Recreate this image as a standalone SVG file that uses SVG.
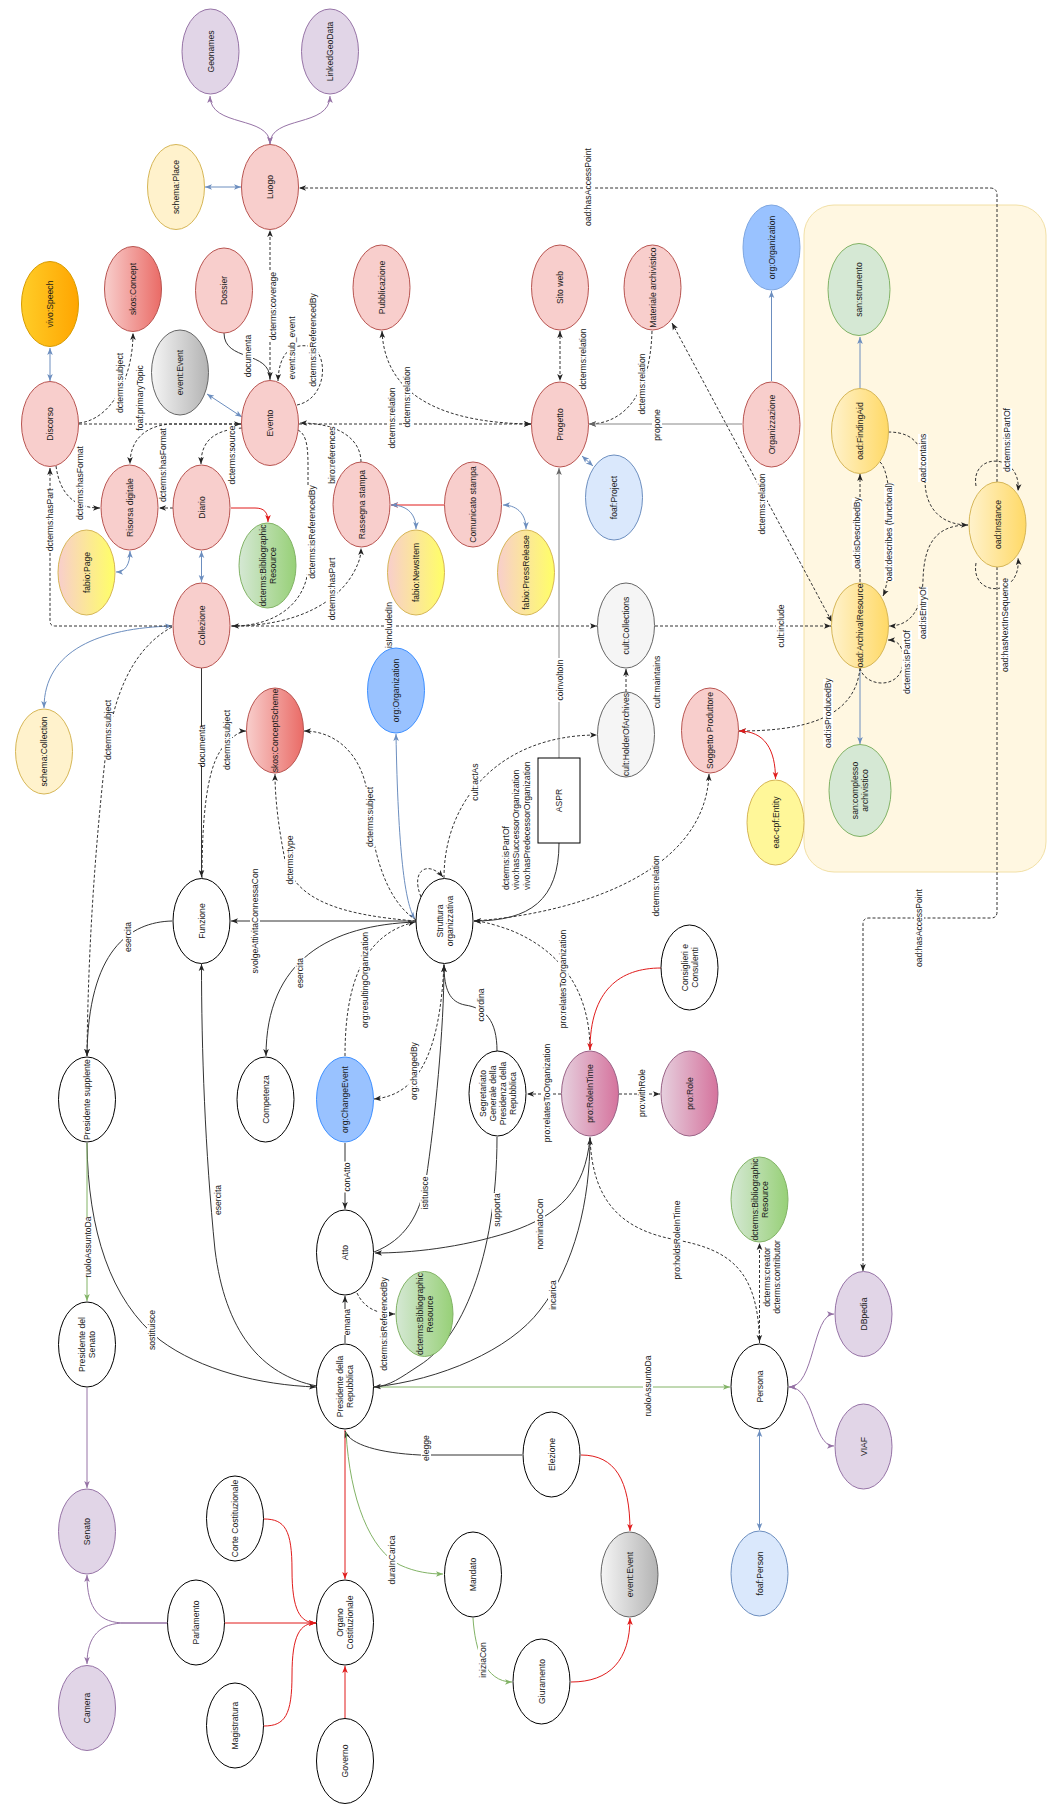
<svg xmlns="http://www.w3.org/2000/svg" width="1048" height="1807" viewBox="0 0 1048 1807">
<defs>
<style>
text{font-family:"Liberation Sans",Arial,Helvetica,sans-serif;font-size:8.6px;fill:#1a1a1a;text-anchor:middle;dominant-baseline:central}
.pk{fill:#f8cecc;stroke:#b85450}
.pu{fill:#e1d5e7;stroke:#9673a6}
.yl{fill:#fff2cc;stroke:#d6b656}
.wh{fill:#ffffff;stroke:#000000}
.gn{fill:#d5e8d4;stroke:#82b366}
.lbl{fill:#dae8fc;stroke:#6c8ebf}
.bl{fill:#99c2ff;stroke:#3d8fff}
.gy{fill:#f5f5f5;stroke:#666666}
.e{fill:none;stroke-width:1}
.k{stroke:#333333;marker-end:url(#ak)}
.d{stroke:#333333;stroke-dasharray:3 2;marker-end:url(#ak)}
.d2{marker-start:url(#ak)}
.b{stroke:#6c8ebf;marker-end:url(#ab);marker-start:url(#ab)}
.b1{stroke:#6c8ebf;marker-end:url(#ab)}
.p{stroke:#9673a6;marker-end:url(#ap)}
.p2{marker-start:url(#ap)}
.r{stroke:#e01b1b;marker-end:url(#ar)}
.r2{marker-start:url(#ar)}
.g{stroke:#82b366;marker-end:url(#ag)}
.gr{stroke:#888888;marker-end:url(#agr)}
.lb rect{fill:#ffffff}
</style>
<marker id="ak" viewBox="0 0 10 10" refX="10" refY="5" markerWidth="7" markerHeight="7" markerUnits="userSpaceOnUse" orient="auto-start-reverse"><path d="M0,1 L10,5 L0,9 L2.5,5 z" fill="#222"/></marker>
<marker id="ab" viewBox="0 0 10 10" refX="10" refY="5" markerWidth="7" markerHeight="7" markerUnits="userSpaceOnUse" orient="auto-start-reverse"><path d="M0,1 L10,5 L0,9 L2.5,5 z" fill="#6c8ebf"/></marker>
<marker id="ap" viewBox="0 0 10 10" refX="10" refY="5" markerWidth="7" markerHeight="7" markerUnits="userSpaceOnUse" orient="auto-start-reverse"><path d="M0,1 L10,5 L0,9 L2.5,5 z" fill="#9673a6"/></marker>
<marker id="ar" viewBox="0 0 10 10" refX="10" refY="5" markerWidth="7" markerHeight="7" markerUnits="userSpaceOnUse" orient="auto-start-reverse"><path d="M0,1 L10,5 L0,9 L2.5,5 z" fill="#e01b1b"/></marker>
<marker id="ag" viewBox="0 0 10 10" refX="10" refY="5" markerWidth="7" markerHeight="7" markerUnits="userSpaceOnUse" orient="auto-start-reverse"><path d="M0,1 L10,5 L0,9 L2.5,5 z" fill="#82b366"/></marker>
<marker id="agr" viewBox="0 0 10 10" refX="10" refY="5" markerWidth="7" markerHeight="7" markerUnits="userSpaceOnUse" orient="auto-start-reverse"><path d="M0,1 L10,5 L0,9 L2.5,5 z" fill="#666"/></marker>
<linearGradient id="gOr" x1="0" y1="0" x2="1" y2="0"><stop offset="0" stop-color="#ffcd28"/><stop offset="1" stop-color="#ffa500"/></linearGradient>
<linearGradient id="gRe" x1="0" y1="0" x2="1" y2="0"><stop offset="0" stop-color="#f8cecc"/><stop offset="1" stop-color="#ea6b66"/></linearGradient>
<linearGradient id="gGy" x1="0" y1="0" x2="1" y2="0"><stop offset="0" stop-color="#f5f5f5"/><stop offset="1" stop-color="#b3b3b3"/></linearGradient>
<linearGradient id="gGn" x1="0" y1="0" x2="1" y2="0"><stop offset="0" stop-color="#d5e8d4"/><stop offset="1" stop-color="#97d077"/></linearGradient>
<linearGradient id="gGo" x1="0" y1="0" x2="1" y2="0"><stop offset="0" stop-color="#fff2cc"/><stop offset="1" stop-color="#ffd966"/></linearGradient>
<linearGradient id="gFa" x1="0" y1="0" x2="1" y2="0"><stop offset="0" stop-color="#f8cecc"/><stop offset="1" stop-color="#ffff66"/></linearGradient>
<linearGradient id="gPi" x1="0" y1="0" x2="1" y2="0"><stop offset="0" stop-color="#e6d0de"/><stop offset="1" stop-color="#d5739d"/></linearGradient>
</defs>
<rect width="1048" height="1807" fill="#ffffff"/>
<rect id="container" x="804" y="205" width="242" height="667" rx="30" fill="#fff7e1" stroke="#f2e0a6"/>

<g id="connectors">
<path class="e p p2" d="M270,144 C270,115 210,128 210,96"/>
<path class="e p p2" d="M270,144 C270,115 330,128 330,96"/>
<path class="e b" d="M205,187 L241,187"/>
<path class="e d" d="M270,380 L270,230"/>
<path class="e k" d="M224,333 C224,362 270,350 270,379"/>
<path class="e d" d="M297,405 C330,398 328,348 308,346 C292,344 279,352 278,381"/>
<path class="e d" d="M79,424 L241,424"/>
<path class="e d" d="M79,423 C110,420 133,380 133,333"/>
<path class="e b" d="M50,348 L50,381"/>
<path class="e b" d="M207,394 L242,417"/>
<path class="e d" d="M299,424 L531,424"/>
<path class="e d d2" d="M382,331 C385,400 450,423 531,424"/>
<path class="e d d2" d="M560,331 L560,381"/>
<path class="e d" d="M652,331 C650,400 620,424 589,424"/>
<path class="e gr" d="M742,424 L589,424"/>
<path class="e b1" d="M771.5,381 L771.5,291"/>
<path class="e d d2" d="M672,323 L832,622"/>
<path class="e b" d="M582,456 L593,466"/>
<path class="e b1" d="M860,388 L860,337"/>
<path class="e b1" d="M860,669 L860,744"/>
<path class="e d" d="M860,582 L860,474"/>
<path class="e d" d="M880,462 C895,475 893,575 883,596"/>
<path class="e d" d="M888,432 C918,432 925,450 925,480 C925,512 945,525 968,525"/>
<path class="e d" d="M968,525 C935,525 924,545 923,580 C922,610 910,626 889,626"/>
<path class="e d" d="M860,668 C865,688 902,690 903,662 C904,645 897,640 888,640"/>
<path class="e d" d="M976,486 C970,452 1022,452 1018,491"/>
<path class="e d" d="M976,563 C970,598 1022,598 1018,558"/>
<path class="e d" d="M860,668 C855,720 800,731 739,731"/>
<path class="e r r2" d="M739,731 C765,731 775.5,750 775.5,779"/>
<path class="e d" d="M655,626 L831,626"/>
<path class="e d" d="M231,626 L597,626"/>
<path class="e d" d="M626,692 L626,669"/>
<path class="e d" d="M444,878 C444,800 500,735 597,735"/>
<path class="e d" d="M421,897 C410,870 428,860 443,877"/>
<path class="e k" d="M559,843 C559,900 530,921 474,921"/>
<path class="e gr" d="M559,758 L559,468"/>
<path class="e d" d="M474,921 C560,915 705,880 709,774"/>
<path class="e k" d="M416,921 L231,921"/>
<path class="e k" d="M416,922 C330,925 266,960 266,1056"/>
<path class="e b" d="M396,734 C398,850 405,905 415,919"/>
<path class="e d" d="M416,920 C385,900 372,850 368,800 C365,760 340,731 304,731"/>
<path class="e d" d="M416,921 C340,915 295,900 285,860 C279,830 275,800 275,774"/>
<path class="e d" d="M202,878 C202,800 210,760 225,745 C233,736 240,731 246,731"/>
<path class="e k" d="M201.5,668 L201.5,877"/>
<path class="e b" d="M172,626 C100,628 44,650 44,708"/>
<path class="e d" d="M172,627 C130,650 112,700 105,760 C95,850 88,950 87,1056"/>
<path class="e d" d="M56,466 C60,495 75,508 100,508"/>
<path class="e d" d="M242,424 L170,424 C145,426 130,440 130,464"/>
<path class="e d" d="M173,508 L159,508"/>
<path class="e d" d="M242,428 C215,430 201,440 201,464"/>
<path class="e d" d="M298,430 C306,434 308,445 308,465 L308,570 C305,600 280,626 232,626"/>
<path class="e d" d="M361,462 C361,440 340,423 300,423"/>
<path class="e d" d="M232,626 C300,626 340,600 355,570 C360,560 361,555 361,548"/>
<path class="e d" d="M172,626 L55,626 Q50,626 50,621 L50,468"/>
<path class="e r" d="M231,508 L255,508 C264,508 268,512 268,522"/>
<path class="e b" d="M201.5,551 L201.5,582"/>
<path class="e b" d="M130,551 C130,565 125,572 116,572"/>
<path class="e r" d="M444,505 L391,505"/>
<path class="e b" d="M391,505 C405,505 416,512 416,529"/>
<path class="e b" d="M503,505 C515,505 526,512 526,529"/>
<path class="e k" d="M317,1386 C260,1375 225,1330 215,1250 C205,1150 201.5,1050 201.5,964"/>
<path class="e k" d="M87,1143 C88,1230 110,1300 160,1340 C200,1370 260,1385 316,1387"/>
<path class="e g" d="M87,1143 L87,1301"/>
<path class="e k" d="M172,921 C130,922 88,950 87,1056"/>
<path class="e p" d="M87,1388 L87,1488"/>
<path class="e p" d="M167,1623 L125,1623 C100,1623 87,1610 87,1575"/>
<path class="e p" d="M167,1623 L125,1623 C100,1623 87,1636 87,1664"/>
<path class="e r" d="M225,1623 L316,1623"/>
<path class="e r" d="M264,1519 C285,1519 292,1530 292,1570 C292,1610 300,1623 316,1623"/>
<path class="e r" d="M264,1726 C285,1726 292,1715 292,1675 C292,1635 300,1623 316,1623"/>
<path class="e r" d="M345,1718 L345,1666"/>
<path class="e r" d="M345,1430 L345,1579"/>
<path class="e k" d="M522,1455 L420,1455 C380,1453 350,1445 345,1431"/>
<path class="e g" d="M346,1432 C350,1500 370,1550 400,1565 C415,1572 430,1574 443,1574"/>
<path class="e g" d="M473,1618 C475,1650 485,1682 512,1682"/>
<path class="e r" d="M581,1455 C615,1455 630,1480 630,1531"/>
<path class="e r" d="M571,1682 C610,1682 630,1660 630,1618"/>
<path class="e g" d="M374,1387 L730,1387"/>
<path class="e b" d="M759.5,1430 L759.5,1530"/>
<path class="e p p2" d="M789,1387 C815,1387 812,1446 834,1446"/>
<path class="e p p2" d="M789,1387 C815,1387 812,1314 834,1314"/>
<path class="e d" d="M759.5,1343 L759.5,1243"/>
<path class="e d" d="M590,1137 C592,1200 620,1230 677,1240 C730,1250 758,1270 759.5,1342"/>
<path class="e d" d="M619,1094 L660,1094"/>
<path class="e d" d="M561,1094 L527,1094"/>
<path class="e d" d="M590,1050 C590,990 560,950 510,930 C490,923 480,921 474,921"/>
<path class="e r" d="M661,968 C620,968 590,990 590,1050"/>
<path class="e k" d="M497,1051 C497,1020 485,1008 465,1005 C450,1002 444,990 444,965"/>
<path class="e k" d="M497,1137 C497,1260 460,1340 420,1365 C400,1378 390,1386 374,1387"/>
<path class="e k" d="M374,1387 C440,1380 510,1350 540,1310 C575,1265 590,1200 590,1138"/>
<path class="e k" d="M590,1138 C585,1190 560,1215 510,1232 C460,1248 410,1253 375,1253"/>
<path class="e k" d="M374,1252 C405,1240 420,1215 426,1180 C435,1120 444,1030 444,965"/>
<path class="e k" d="M345,1143 L345,1209"/>
<path class="e d" d="M345,1056 C345,990 360,935 415,922"/>
<path class="e d" d="M444,964 C440,1050 420,1095 374,1099"/>
<path class="e k" d="M345,1343 L345,1296"/>
<path class="e d" d="M357,1293 C365,1310 380,1314 395,1314"/>
<path class="e d" d="M997,482 L997,195 Q997,188 990,188 L299,188"/>
<path class="e d" d="M997,567 L997,912 Q997,918 991,918 L869,918 Q863,918 863,924 L863,1271"/>

<g class="lb">
<rect x="267.5" y="272" width="10" height="68"/><text transform="translate(272.5,306) rotate(-90)">dcterms:coverage</text>
<rect x="243" y="337" width="10" height="38"/><text transform="translate(248,356) rotate(-90)">documenta</text>
<rect x="287" y="317.5" width="10" height="61"/><text transform="translate(292,348) rotate(-90)">event:sub_event</text>
<rect x="308" y="294" width="10" height="92"/><text transform="translate(313,340) rotate(-90)">dcterms:isReferencedBy</text>
<rect x="135" y="366" width="10" height="64"/><text transform="translate(140,398) rotate(-90)">foaf:primaryTopic</text>
<rect x="115" y="353" width="10" height="60"/><text transform="translate(120,383) rotate(-90)">dcterms:subject</text>
<rect x="387" y="388" width="10" height="60"/><text transform="translate(392,418) rotate(-90)">dcterms:relation</text>
<rect x="402" y="367" width="10" height="60"/><text transform="translate(407,397) rotate(-90)">dcterms:relation</text>
<rect x="578" y="329" width="10" height="60"/><text transform="translate(583,359) rotate(-90)">dcterms:relation</text>
<rect x="637" y="354" width="10" height="60"/><text transform="translate(642,384) rotate(-90)">dcterms:relation</text>
<rect x="652" y="409.5" width="10" height="31"/><text transform="translate(657,425) rotate(-90)">propone</text>
<rect x="757" y="474" width="10" height="60"/><text transform="translate(762,504) rotate(-90)">dcterms:relation</text>
<rect x="852" y="498" width="10" height="70"/><text transform="translate(857,533) rotate(-90)">oad:isDescribedBy</text>
<rect x="884" y="483" width="10" height="98"/><text transform="translate(889,532) rotate(-90)">oad:describes (functional)</text>
<rect x="918" y="434" width="10" height="48"/><text transform="translate(923,458) rotate(-90)">oad:contains</text>
<rect x="918" y="587" width="10" height="52"/><text transform="translate(923,613) rotate(-90)">oad:isEntryOf</text>
<rect x="902" y="630.5" width="10" height="63"/><text transform="translate(907,662) rotate(-90)">dcterms:isPartOf</text>
<rect x="1002" y="408.5" width="10" height="63"/><text transform="translate(1007,440) rotate(-90)">dcterms:isPartOf</text>
<rect x="1000" y="580" width="10" height="90"/><text transform="translate(1005,625) rotate(-90)">oad:hasNextInSequence</text>
<rect x="823" y="679" width="10" height="68"/><text transform="translate(828,713) rotate(-90)">oad:isProducedBy</text>
<rect x="776" y="605" width="10" height="42"/><text transform="translate(781,626) rotate(-90)">cult:include</text>
<rect x="384" y="602" width="10" height="46"/><text transform="translate(389,625) rotate(-90)">isIncludedIn</text>
<rect x="652" y="656" width="10" height="52"/><text transform="translate(657,682) rotate(-90)">cult:maintains</text>
<rect x="470" y="763" width="10" height="38"/><text transform="translate(475,782) rotate(-90)">cult:actAs</text>
<text transform="translate(505.7,890) rotate(-90)" style="text-anchor:start"><tspan x="0" dy="0">dcterms:isPartOf</tspan><tspan x="0" dy="10.5">vivo:hasSuccessorOrganization</tspan><tspan x="0" dy="10.5">vivo:hasPredecessorOrganization</tspan></text>
<rect x="555" y="658" width="10" height="44"/><text transform="translate(560,680) rotate(-90)">coinvoltoIn</text>
<rect x="651" y="856" width="10" height="60"/><text transform="translate(656,886) rotate(-90)">dcterms:relation</text>
<rect x="250" y="869" width="10" height="104"/><text transform="translate(255,921) rotate(-90)">svolgeAttivitaConnessaCon</text>
<rect x="295" y="957.5" width="10" height="31"/><text transform="translate(300,973) rotate(-90)">esercita</text>
<rect x="365" y="787" width="10" height="60"/><text transform="translate(370,817) rotate(-90)">dcterms:subject</text>
<rect x="285" y="836" width="10" height="48"/><text transform="translate(290,860) rotate(-90)">dcterms:type</text>
<rect x="222" y="710" width="10" height="60"/><text transform="translate(227,740) rotate(-90)">dcterms:subject</text>
<rect x="196.5" y="727" width="10" height="38"/><text transform="translate(201.5,746) rotate(-90)">documenta</text>
<rect x="103" y="700" width="10" height="60"/><text transform="translate(108,730) rotate(-90)">dcterms:subject</text>
<rect x="75" y="447" width="10" height="72"/><text transform="translate(80,483) rotate(-90)">dcterms:hasFormat</text>
<rect x="158" y="429" width="10" height="72"/><text transform="translate(163,465) rotate(-90)">dcterms:hasFormat</text>
<rect x="227" y="427" width="10" height="56"/><text transform="translate(232,455) rotate(-90)">dcterms:source</text>
<rect x="307" y="486" width="10" height="92"/><text transform="translate(312,532) rotate(-90)">dcterms:isReferencedBy</text>
<rect x="327" y="427" width="10" height="56"/><text transform="translate(332,455) rotate(-90)">biro:references</text>
<rect x="327" y="559" width="10" height="60"/><text transform="translate(332,589) rotate(-90)">dcterms:hasPart</text>
<rect x="45" y="490" width="10" height="60"/><text transform="translate(50,520) rotate(-90)">dcterms:hasPart</text>
<rect x="213" y="1184.5" width="10" height="31"/><text transform="translate(218,1200) rotate(-90)">esercita</text>
<rect x="147" y="1309" width="10" height="42"/><text transform="translate(152,1330) rotate(-90)">sostituisce</text>
<rect x="83" y="1217" width="10" height="60"/><text transform="translate(88,1247) rotate(-90)">ruoloAssuntoDa</text>
<rect x="123" y="921.5" width="10" height="31"/><text transform="translate(128,937) rotate(-90)">esercita</text>
<rect x="421" y="1434.5" width="10" height="27"/><text transform="translate(426,1448) rotate(-90)">elegge</text>
<rect x="387" y="1536" width="10" height="48"/><text transform="translate(392,1560) rotate(-90)">duraInCarica</text>
<rect x="478" y="1641.5" width="10" height="37"/><text transform="translate(483,1660) rotate(-90)">iniziaCon</text>
<rect x="643" y="1356" width="10" height="60"/><text transform="translate(648,1386) rotate(-90)">ruoloAssuntoDa</text>
<text transform="translate(772,1277) rotate(-90)"><tspan x="0" dy="-5">dcterms:creator</tspan><tspan x="0" dy="10">dcterms:contributor</tspan></text>
<rect x="672" y="1202" width="10" height="76"/><text transform="translate(677,1240) rotate(-90)">pro:holdsRoleInTime</text>
<rect x="637" y="1069" width="10" height="48"/><text transform="translate(642,1093) rotate(-90)">pro:withRole</text>
<rect x="542" y="1044" width="10" height="98"/><text transform="translate(547,1093) rotate(-90)">pro:relatesToOrganization</text>
<rect x="558" y="930" width="10" height="98"/><text transform="translate(563,979) rotate(-90)">pro:relatesToOrganization</text>
<rect x="476" y="988.5" width="10" height="33"/><text transform="translate(481,1005) rotate(-90)">coordina</text>
<rect x="492" y="1193" width="10" height="34"/><text transform="translate(497,1210) rotate(-90)">supporta</text>
<rect x="548" y="1279.5" width="10" height="31"/><text transform="translate(553,1295) rotate(-90)">incarica</text>
<rect x="535" y="1198" width="10" height="52"/><text transform="translate(540,1224) rotate(-90)">nominatoCon</text>
<rect x="420" y="1175" width="10" height="36"/><text transform="translate(425,1193) rotate(-90)">istituisce</text>
<rect x="342" y="1161.5" width="10" height="31"/><text transform="translate(347,1177) rotate(-90)">conAtto</text>
<rect x="360" y="932" width="10" height="96"/><text transform="translate(365,980) rotate(-90)">org:resultingOrganization</text>
<rect x="409" y="1042.5" width="10" height="57"/><text transform="translate(414,1071) rotate(-90)">org:changedBy</text>
<rect x="342" y="1309" width="10" height="26"/><text transform="translate(347,1322) rotate(-90)">emana</text>
<rect x="379" y="1278" width="10" height="92"/><text transform="translate(384,1324) rotate(-90)">dcterms:isReferencedBy</text>
<rect x="583" y="148.5" width="10" height="77"/><text transform="translate(588,187) rotate(-90)">oad:hasAccessPoint</text>
<rect x="914" y="889.5" width="10" height="77"/><text transform="translate(919,928) rotate(-90)">oad:hasAccessPoint</text>
</g>
</g>

<g id="nodes">
<g id="n-geonames"><ellipse class="pu" cx="210.5" cy="51.5" rx="28.5" ry="42.5"/><text transform="translate(210.5,51.5) rotate(-90)">Geonames</text></g>
<g id="n-linkedgeodata"><ellipse class="pu" cx="330" cy="51.5" rx="28.5" ry="42.5"/><text transform="translate(330,51.5) rotate(-90)">LinkedGeoData</text></g>
<g id="n-schemaplace"><ellipse class="yl" cx="176" cy="187" rx="28.5" ry="42.5"/><text transform="translate(176,187) rotate(-90)">schema:Place</text></g>
<g id="n-luogo"><ellipse class="pk" cx="270" cy="187" rx="28.5" ry="42.5"/><text transform="translate(270,187) rotate(-90)">Luogo</text></g>
<g id="n-vivospeech"><ellipse fill="url(#gOr)" stroke="#d79b00" cx="50" cy="304" rx="28.5" ry="42.5"/><text transform="translate(50,304) rotate(-90)">vivo:Speech</text></g>
<g id="n-skosconcept"><ellipse fill="url(#gRe)" stroke="#b85450" cx="133" cy="289" rx="28.5" ry="42.5"/><text transform="translate(133,289) rotate(-90)">skos:Concept</text></g>
<g id="n-dossier"><ellipse class="pk" cx="224" cy="290.5" rx="28.5" ry="42.5"/><text transform="translate(224,290.5) rotate(-90)">Dossier</text></g>
<g id="n-eventevent1"><ellipse fill="url(#gGy)" stroke="#666666" cx="180" cy="372.5" rx="28.5" ry="42.5"/><text transform="translate(180,372.5) rotate(-90)">event:Event</text></g>
<g id="n-discorso"><ellipse class="pk" cx="50" cy="424" rx="28.5" ry="42.5"/><text transform="translate(50,424) rotate(-90)">Discorso</text></g>
<g id="n-evento"><ellipse class="pk" cx="270" cy="423" rx="28.5" ry="42.5"/><text transform="translate(270,423) rotate(-90)">Evento</text></g>
<g id="n-pubblicazione"><ellipse class="pk" cx="381.5" cy="287.5" rx="28.5" ry="42.5"/><text transform="translate(381.5,287.5) rotate(-90)">Pubblicazione</text></g>
<g id="n-sitoweb"><ellipse class="pk" cx="560" cy="287.5" rx="28.5" ry="42.5"/><text transform="translate(560,287.5) rotate(-90)">Sito web</text></g>
<g id="n-materiale"><ellipse class="pk" cx="652.5" cy="287.5" rx="28.5" ry="42.5"/><text transform="translate(652.5,287.5) rotate(-90)">Materiale archivistico</text></g>
<g id="n-progetto"><ellipse class="pk" cx="560" cy="424.5" rx="28.5" ry="42.5"/><text transform="translate(560,424.5) rotate(-90)">Progetto</text></g>
<g id="n-orgorganization1"><ellipse fill="#99c2ff" stroke="#7ea6e0" cx="771.5" cy="247.5" rx="28.5" ry="42.5"/><text transform="translate(771.5,247.5) rotate(-90)">org:Organization</text></g>
<g id="n-organizzazione"><ellipse class="pk" cx="771.5" cy="424.5" rx="28.5" ry="42.5"/><text transform="translate(771.5,424.5) rotate(-90)">Organizzazione</text></g>
<g id="n-sanstrumento"><ellipse class="gn" cx="859" cy="289.5" rx="31" ry="46"/><text transform="translate(859,289.5) rotate(-90)">san:strumento</text></g>
<g id="n-findingaid"><ellipse fill="url(#gGo)" stroke="#d6b656" cx="860" cy="431" rx="28.5" ry="42.5"/><text transform="translate(860,431) rotate(-90)">oad:FindingAid</text></g>
<g id="n-archivalresource"><ellipse fill="url(#gGo)" stroke="#d6b656" cx="860" cy="625.5" rx="28.5" ry="42.5"/><text transform="translate(860,625.5) rotate(-90)">oad:ArchivalResource</text></g>
<g id="n-instance"><ellipse fill="url(#gGo)" stroke="#d6b656" cx="997.5" cy="524.5" rx="28.5" ry="42.5"/><text transform="translate(997.5,524.5) rotate(-90)">oad:Instance</text></g>
<g id="n-soggetto"><ellipse class="pk" cx="710" cy="730.5" rx="28.5" ry="42.5"/><text transform="translate(710,730.5) rotate(-90)">Soggetto Produttore</text></g>
<g id="n-eaccpf"><ellipse fill="#fff799" stroke="#d6b656" cx="775.5" cy="822.5" rx="28.5" ry="42.5"/><text transform="translate(775.5,822.5) rotate(-90)">eac-cpf:Entity</text></g>
<g id="n-sancomplesso"><ellipse class="gn" cx="860" cy="790.5" rx="31" ry="46"/><text transform="translate(860,790.5) rotate(-90)"><tspan x="0" dy="-5">san:complesso</tspan><tspan x="0" dy="10">archivistico</tspan></text></g>
<g id="n-risorsadigitale"><ellipse class="pk" cx="129.5" cy="507.5" rx="28.5" ry="42.5"/><text transform="translate(129.5,507.5) rotate(-90)">Risorsa digitale</text></g>
<g id="n-fabiopage"><ellipse fill="url(#gFa)" stroke="#d6b656" cx="86.5" cy="572.5" rx="28.5" ry="42.5"/><text transform="translate(86.5,572.5) rotate(-90)">fabio:Page</text></g>
<g id="n-diario"><ellipse class="pk" cx="201.5" cy="507.5" rx="28.5" ry="42.5"/><text transform="translate(201.5,507.5) rotate(-90)">Diario</text></g>
<g id="n-bibres1"><ellipse fill="url(#gGn)" stroke="#82b366" cx="267.5" cy="565.5" rx="28.5" ry="42.5"/><text transform="translate(267.5,565.5) rotate(-90)"><tspan x="0" dy="-5">dcterms:Bibliographic</tspan><tspan x="0" dy="10">Resource</tspan></text></g>
<g id="n-collezione"><ellipse class="pk" cx="201.5" cy="625.5" rx="28.5" ry="42.5"/><text transform="translate(201.5,625.5) rotate(-90)">Collezione</text></g>
<g id="n-schemacollection"><ellipse class="yl" cx="44" cy="751.5" rx="28.5" ry="42.5"/><text transform="translate(44,751.5) rotate(-90)">schema:Collection</text></g>
<g id="n-skosconceptscheme"><ellipse fill="url(#gRe)" stroke="#b85450" cx="275" cy="730.5" rx="28.5" ry="42.5"/><text transform="translate(275,730.5) rotate(-90)">skos:ConceptScheme</text></g>
<g id="n-rassegna"><ellipse class="pk" cx="361.5" cy="504.5" rx="28.5" ry="42.5"/><text transform="translate(361.5,504.5) rotate(-90)">Rassegna stampa</text></g>
<g id="n-comunicato"><ellipse class="pk" cx="473" cy="504.5" rx="28.5" ry="42.5"/><text transform="translate(473,504.5) rotate(-90)">Comunicato stampa</text></g>
<g id="n-fabionewsitem"><ellipse fill="url(#gFa)" stroke="#d6b656" cx="416" cy="572.5" rx="28.5" ry="42.5"/><text transform="translate(416,572.5) rotate(-90)">fabio:NewsItem</text></g>
<g id="n-fabiopressrelease"><ellipse fill="url(#gFa)" stroke="#d6b656" cx="526" cy="572.5" rx="28.5" ry="42.5"/><text transform="translate(526,572.5) rotate(-90)">fabio:PressRelease</text></g>
<g id="n-foafproject"><ellipse class="lbl" cx="614" cy="497.5" rx="28.5" ry="42.5"/><text transform="translate(614,497.5) rotate(-90)">foaf:Project</text></g>
<g id="n-orgorganization2"><ellipse class="bl" cx="396" cy="690.5" rx="28.5" ry="42.5"/><text transform="translate(396,690.5) rotate(-90)">org:Organization</text></g>
<g id="n-cultcollections"><ellipse class="gy" cx="626" cy="625.5" rx="28.5" ry="42.5"/><text transform="translate(626,625.5) rotate(-90)">cult:Collections</text></g>
<g id="n-cultholder"><ellipse class="gy" cx="626" cy="734.5" rx="28.5" ry="42.5"/><text transform="translate(626,734.5) rotate(-90)">cult:HolderOfArchives</text></g>
<g id="n-aspr"><rect class="wh" x="538" y="758" width="42" height="85"/><text transform="translate(559,800.5) rotate(-90)">ASPR</text></g>
<g id="n-struttura"><ellipse class="wh" cx="444.5" cy="921" rx="28.5" ry="42.5"/><text transform="translate(444.5,921) rotate(-90)"><tspan x="0" dy="-5">Struttura</tspan><tspan x="0" dy="10">organizzativa</tspan></text></g>
<g id="n-funzione"><ellipse class="wh" cx="201.5" cy="921" rx="28.5" ry="42.5"/><text transform="translate(201.5,921) rotate(-90)">Funzione</text></g>
<g id="n-pressupplente"><ellipse class="wh" cx="87" cy="1099.5" rx="28.5" ry="42.5"/><text transform="translate(87,1099.5) rotate(-90)">Presidente supplente</text></g>
<g id="n-competenza"><ellipse class="wh" cx="265.5" cy="1099.5" rx="28.5" ry="42.5"/><text transform="translate(265.5,1099.5) rotate(-90)">Competenza</text></g>
<g id="n-changeevent"><ellipse class="bl" cx="345" cy="1099.5" rx="28.5" ry="42.5"/><text transform="translate(345,1099.5) rotate(-90)">org:ChangeEvent</text></g>
<g id="n-atto"><ellipse class="wh" cx="345" cy="1252.5" rx="28.5" ry="42.5"/><text transform="translate(345,1252.5) rotate(-90)">Atto</text></g>
<g id="n-pressenato"><ellipse class="wh" cx="87" cy="1344.5" rx="28.5" ry="42.5"/><text transform="translate(87,1344.5) rotate(-90)"><tspan x="0" dy="-5">Presidente del</tspan><tspan x="0" dy="10">Senato</tspan></text></g>
<g id="n-segretariato"><ellipse class="wh" cx="497.5" cy="1093.5" rx="28.5" ry="42.5"/><text transform="translate(497.5,1093.5) rotate(-90)"><tspan x="0" dy="-15">Segretariato</tspan><tspan x="0" dy="10">Generale della</tspan><tspan x="0" dy="10">Presidenza della</tspan><tspan x="0" dy="10">Repubblica</tspan></text></g>
<g id="n-roleintime"><ellipse fill="url(#gPi)" stroke="#996185" cx="590" cy="1093.5" rx="28.5" ry="42.5"/><text transform="translate(590,1093.5) rotate(-90)">pro:RoleInTime</text></g>
<g id="n-consiglieri"><ellipse class="wh" cx="689.5" cy="967.5" rx="28.5" ry="42.5"/><text transform="translate(689.5,967.5) rotate(-90)"><tspan x="0" dy="-5">Consiglieri e</tspan><tspan x="0" dy="10">Consulenti</tspan></text></g>
<g id="n-prorole"><ellipse fill="url(#gPi)" stroke="#996185" cx="689.5" cy="1093.5" rx="28.5" ry="42.5"/><text transform="translate(689.5,1093.5) rotate(-90)">pro:Role</text></g>
<g id="n-bibres2"><ellipse fill="url(#gGn)" stroke="#82b366" cx="424.5" cy="1314" rx="28.5" ry="42.5"/><text transform="translate(424.5,1314) rotate(-90)"><tspan x="0" dy="-5">dcterms:Bibliographic</tspan><tspan x="0" dy="10">Resource</tspan></text></g>
<g id="n-bibres3"><ellipse fill="url(#gGn)" stroke="#82b366" cx="759.5" cy="1199.5" rx="28.5" ry="42.5"/><text transform="translate(759.5,1199.5) rotate(-90)"><tspan x="0" dy="-5">dcterms:Bibliographic</tspan><tspan x="0" dy="10">Resource</tspan></text></g>
<g id="n-dbpedia"><ellipse class="pu" cx="863.5" cy="1314" rx="28.5" ry="42.5"/><text transform="translate(863.5,1314) rotate(-90)">DBpedia</text></g>
<g id="n-senato"><ellipse class="pu" cx="87" cy="1531.5" rx="28.5" ry="42.5"/><text transform="translate(87,1531.5) rotate(-90)">Senato</text></g>
<g id="n-camera"><ellipse class="pu" cx="87" cy="1708" rx="28.5" ry="42.5"/><text transform="translate(87,1708) rotate(-90)">Camera</text></g>
<g id="n-corte"><ellipse class="wh" cx="235" cy="1518.5" rx="28.5" ry="42.5"/><text transform="translate(235,1518.5) rotate(-90)">Corte Costituzionale</text></g>
<g id="n-parlamento"><ellipse class="wh" cx="196" cy="1622.5" rx="28.5" ry="42.5"/><text transform="translate(196,1622.5) rotate(-90)">Parlamento</text></g>
<g id="n-magistratura"><ellipse class="wh" cx="235" cy="1725.5" rx="28.5" ry="42.5"/><text transform="translate(235,1725.5) rotate(-90)">Magistratura</text></g>
<g id="n-organo"><ellipse class="wh" cx="345" cy="1622.5" rx="28.5" ry="42.5"/><text transform="translate(345,1622.5) rotate(-90)"><tspan x="0" dy="-5">Organo</tspan><tspan x="0" dy="10">Costituzionale</tspan></text></g>
<g id="n-governo"><ellipse class="wh" cx="345" cy="1761" rx="28.5" ry="42.5"/><text transform="translate(345,1761) rotate(-90)">Governo</text></g>
<g id="n-pdr"><ellipse class="wh" cx="345" cy="1386.5" rx="28.5" ry="42.5"/><text transform="translate(345,1386.5) rotate(-90)"><tspan x="0" dy="-5">Presidente della</tspan><tspan x="0" dy="10">Repubblica</tspan></text></g>
<g id="n-elezione"><ellipse class="wh" cx="551.5" cy="1454.5" rx="28.5" ry="42.5"/><text transform="translate(551.5,1454.5) rotate(-90)">Elezione</text></g>
<g id="n-mandato"><ellipse class="wh" cx="473" cy="1574.5" rx="28.5" ry="42.5"/><text transform="translate(473,1574.5) rotate(-90)">Mandato</text></g>
<g id="n-eventevent2"><ellipse fill="url(#gGy)" stroke="#666666" cx="629.5" cy="1574.5" rx="28.5" ry="42.5"/><text transform="translate(629.5,1574.5) rotate(-90)">event:Event</text></g>
<g id="n-giuramento"><ellipse class="wh" cx="541.5" cy="1681.5" rx="28.5" ry="42.5"/><text transform="translate(541.5,1681.5) rotate(-90)">Giuramento</text></g>
<g id="n-persona"><ellipse class="wh" cx="759.5" cy="1386.5" rx="28.5" ry="42.5"/><text transform="translate(759.5,1386.5) rotate(-90)">Persona</text></g>
<g id="n-viaf"><ellipse class="pu" cx="863.5" cy="1446.5" rx="28.5" ry="42.5"/><text transform="translate(863.5,1446.5) rotate(-90)">VIAF</text></g>
<g id="n-foafperson"><ellipse class="lbl" cx="759.5" cy="1573.5" rx="28.5" ry="42.5"/><text transform="translate(759.5,1573.5) rotate(-90)">foaf:Person</text></g>
</g>
</svg>
